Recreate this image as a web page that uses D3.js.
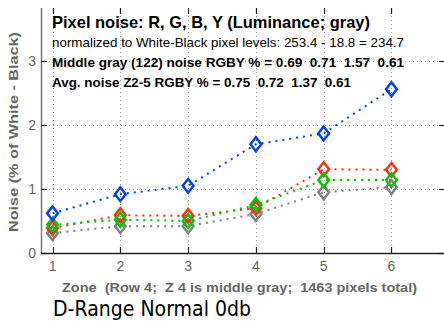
<!DOCTYPE html>
<html><head><meta charset="utf-8">
<script src="https://cdn.jsdelivr.net/npm/d3@7"></script>
<style>body{margin:0;background:#fff;overflow:hidden}svg{display:block}text{white-space:pre}</style>
</head><body>
<script>
const zones = [1, 2, 3, 4, 5, 6];
const redVals = [0.39, 0.59, 0.58, 0.70, 1.31, 1.30];
const greenVals = [0.44, 0.52, 0.50, 0.75, 1.14, 1.14];
const blueVals = [0.62, 0.92, 1.05, 1.70, 1.87, 2.56];
const grayVals = [0.31, 0.42, 0.42, 0.61, 0.95, 1.03];
const yTicks = [0, 1, 2, 3];
const titleLines = [
  "Pixel noise: R, G, B, Y (Luminance; gray)",
  "normalized to White-Black pixel levels: 253.4 - 18.8 = 234.7",
  "Middle gray (122) noise RGBY % = 0.69  0.71  1.57  0.61",
  "Avg. noise Z2-5 RGBY % = 0.75  0.72  1.37  0.61"
];
const xLabel = "Zone  (Row 4;  Z 4 is middle gray;  1463 pixels total)";
const yLabel = "Noise (% of White - Black)";
const footer = "D-Range Normal 0db";

const W = 444, H = 321;
const svg = d3.select("body").append("svg").attr("width", W).attr("height", H);
const L = 41, R = 445, T = 8, B = 253;
const x = d3.scaleLinear().domain([0.83, 6.79]).range([L, R]);
const y = d3.scaleLinear().domain([0, 3.83]).range([B, T]);

// grid
const g = svg.append("g");
g.selectAll(".hg").data(yTicks.filter(d => d > 0)).enter().append("line")
  .attr("x1", L).attr("x2", R).attr("y1", d => Math.round(y(d)) + 0.5).attr("y2", d => Math.round(y(d)) + 0.5)
  .attr("stroke", "#999").attr("stroke-dasharray", "1,3");
g.selectAll(".vg").data(zones).enter().append("line")
  .attr("y1", T).attr("y2", B).attr("x1", d => Math.round(x(d)) + 0.5).attr("x2", d => Math.round(x(d)) + 0.5)
  .attr("stroke", "#999").attr("stroke-dasharray", "1,3");

// axes
const axCol = "#222";
svg.append("line").attr("x1", L + 0.5).attr("x2", L + 0.5).attr("y1", T).attr("y2", B).attr("stroke", "#777").attr("stroke-width", 1.5);
svg.append("line").attr("x1", L).attr("x2", R).attr("y1", B + 0.5).attr("y2", B + 0.5).attr("stroke", axCol).attr("stroke-width", 1.5);
svg.selectAll(".xt").data(zones).enter().append("line")
  .attr("x1", d => Math.round(x(d)) + 0.5).attr("x2", d => Math.round(x(d)) + 0.5)
  .attr("y1", B).attr("y2", B - 6).attr("stroke", axCol).attr("stroke-width", 1.2);
svg.selectAll(".xtt").data(zones).enter().append("line")
  .attr("x1", d => Math.round(x(d)) + 0.5).attr("x2", d => Math.round(x(d)) + 0.5)
  .attr("y1", T).attr("y2", T + 6).attr("stroke", axCol).attr("stroke-width", 1.2);
svg.selectAll(".yt").data(yTicks).enter().append("line")
  .attr("x1", L).attr("x2", L + 6).attr("y1", d => Math.round(y(d)) + 0.5).attr("y2", d => Math.round(y(d)) + 0.5)
  .attr("stroke", axCol).attr("stroke-width", 1.2);
svg.selectAll(".ytr").data(yTicks).enter().append("line")
  .attr("x1", R - 6).attr("x2", R).attr("y1", d => Math.round(y(d)) + 0.5).attr("y2", d => Math.round(y(d)) + 0.5)
  .attr("stroke", axCol).attr("stroke-width", 1.2);

// tick labels
const af = "'Liberation Sans', Arial, sans-serif";
svg.selectAll(".xl").data(zones).enter().append("text")
  .attr("x", d => x(d)).attr("y", 271).attr("text-anchor", "middle")
  .attr("font-family", af).attr("font-size", 14).attr("fill", "#666")
  .text(d => d);
svg.selectAll(".yl").data(yTicks).enter().append("text")
  .attr("x", 36).attr("y", d => y(d) + 5).attr("text-anchor", "end")
  .attr("font-family", af).attr("font-size", 14).attr("fill", "#666")
  .text(d => d);

// axis labels
svg.append("text").attr("x", 62).attr("y", 292)
  .attr("font-family", af).attr("font-weight", "bold").attr("font-size", 12.5).attr("fill", "#666")
  .attr("textLength", 355).attr("lengthAdjust", "spacingAndGlyphs")
  .text(xLabel);
svg.append("text").attr("transform", "translate(18,232) rotate(-90)")
  .attr("font-family", af).attr("font-weight", "bold").attr("font-size", 13.5).attr("fill", "#666")
  .attr("textLength", 200).attr("lengthAdjust", "spacingAndGlyphs")
  .text(yLabel);
svg.append("text").attr("x", 53).attr("y", 316)
  .attr("font-family", "'DejaVu Sans', sans-serif").attr("font-size", 22).attr("fill", "#000")
  .attr("textLength", 198).attr("lengthAdjust", "spacingAndGlyphs")
  .text(footer);

// series
const series = [
  {vals: grayVals, color: "#808080"},
  {vals: redVals, color: "#ff3010"},
  {vals: greenVals, color: "#00c800"},
  {vals: blueVals, color: "#0040ff"}
];
const line = d3.line().x((d, i) => x(zones[i])).y(d => y(d));
series.forEach(s => {
  svg.append("path").attr("d", line(s.vals)).attr("fill", "none")
    .attr("stroke", s.color).attr("stroke-width", 2).attr("stroke-dasharray", "2,5");
});
const diamond = d3.symbol().type(d3.symbolDiamond).size(55);
series.forEach(s => {
  svg.selectAll(null).data(s.vals).enter().append("path")
    .attr("d", diamond)
    .attr("transform", (d, i) => `translate(${x(zones[i])},${y(d)}) scale(1.35,1)`)
    .attr("fill", "none").attr("stroke", s.color).attr("stroke-width", 2);
});

// title texts
const tspecs = [
  {y: 28, size: 17, bold: true, len: 318},
  {y: 47, size: 13, bold: false, len: 352},
  {y: 67, size: 13, bold: true, len: 352},
  {y: 87, size: 13, bold: true, len: 299}
];
tspecs.forEach((t, i) => {
  svg.append("text").attr("x", 52).attr("y", t.y)
    .attr("font-family", af).attr("font-weight", t.bold ? "bold" : "normal")
    .attr("font-size", t.size).attr("fill", "#000")
    .attr("textLength", t.len).attr("lengthAdjust", "spacingAndGlyphs")
    .text(titleLines[i]);
});
</script>
</body></html>
